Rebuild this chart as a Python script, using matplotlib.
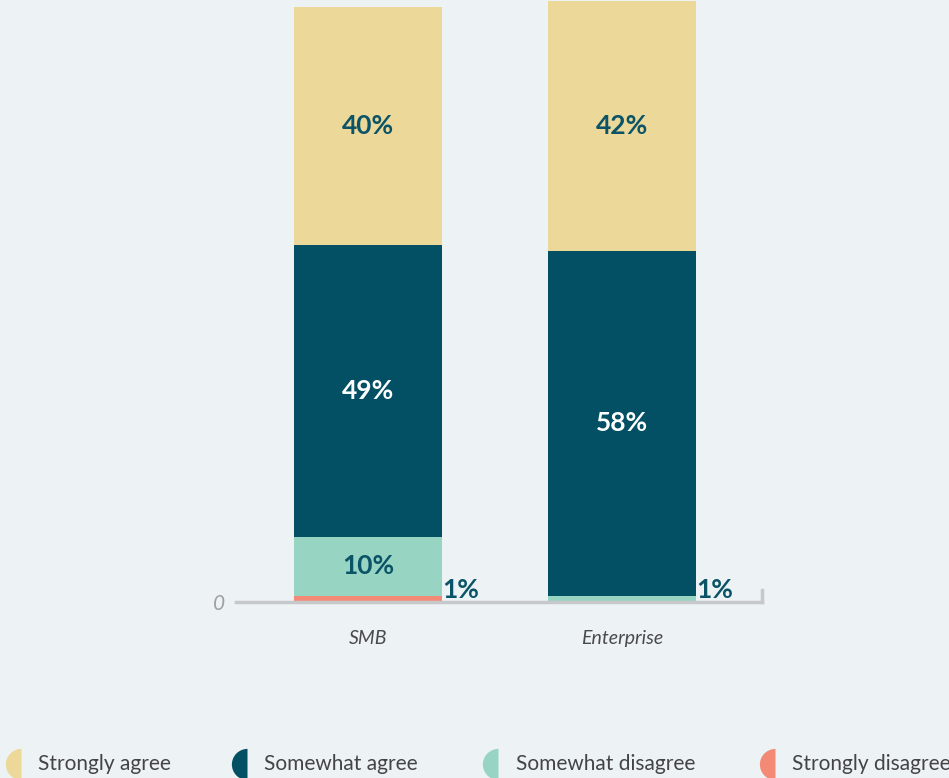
import matplotlib.pyplot as plt
import numpy as np
from matplotlib.lines import Line2D

plt.rcParams["font.family"] = ["Lato", "DejaVu Sans"]

# survey answers, percent of respondents
segments = ["Strongly disagree", "Somewhat disagree", "Somewhat agree", "Strongly agree"]
groups = ["SMB", "Enterprise"]
strongly_disagree = [1, 0]
somewhat_disagree = [10, 1]
somewhat_agree = [49, 58]
strongly_agree = [40, 42]

colors = {
    "Strongly agree": "#ecd898",
    "Somewhat agree": "#034f63",
    "Somewhat disagree": "#98d4c2",
    "Strongly disagree": "#f28a76",
}
text_colors = {
    "Strongly agree": "#0b5468",
    "Somewhat agree": "white",
    "Somewhat disagree": "#0b5468",
    "Strongly disagree": "#0b5468",
}
bg = "#edf2f5"

W, H = 949, 778
fig = plt.figure(figsize=(W / 100, H / 100), dpi=100, facecolor=bg)
ax = fig.add_axes([236 / W, (H - 602) / H, 526 / W, 601 / H])
ax.set_facecolor(bg)

x = np.arange(len(groups))
bar_w = 0.583
values = {
    "Strongly disagree": strongly_disagree,
    "Somewhat disagree": somewhat_disagree,
    "Somewhat agree": somewhat_agree,
    "Strongly agree": strongly_agree,
}
bottom = np.zeros(len(groups))
for seg in segments:
    vals = np.array(values[seg], dtype=float)
    ax.bar(x, vals, bar_w, bottom=bottom, color=colors[seg], linewidth=0, zorder=2)
    for i, v in enumerate(vals):
        if v >= 5:
            ax.text(x[i], bottom[i] + v / 2, f"{v:.0f}%", ha="center", va="center",
                    fontsize=19, fontweight="bold", color=text_colors[seg], zorder=3)
    bottom += vals

# small slices get their label beside the bar, on the baseline
for i in range(len(groups)):
    small = strongly_disagree[i] if strongly_disagree[i] > 0 else somewhat_disagree[i]
    ax.text(x[i] + bar_w / 2, 0, f"{small}%", ha="left", va="bottom",
            fontsize=19, fontweight="bold", color="#0b5468", zorder=3)

ax.set_xlim(-0.52, 1.551)
ax.set_ylim(0, 101)
for s in ["top", "left", "right"]:
    ax.spines[s].set_visible(False)
ax.spines["bottom"].set_color("#c6c8ca")
ax.spines["bottom"].set_linewidth(2.5)
ax.axvline(1.551, ymin=0, ymax=12 / 601, color="#c6c8ca", linewidth=2.5, clip_on=False)
ax.set_yticks([0])
ax.set_yticklabels(["0"], fontsize=15, style="italic", color="#a0a0a0")
ax.tick_params(axis="y", length=0, pad=8)
ax.set_xticks(x)
ax.set_xticklabels(groups, fontsize=14, style="italic", color="#4a4a4a")
ax.tick_params(axis="x", length=0, pad=20)

# legend along the bottom
legend_order = ["Strongly agree", "Somewhat agree", "Somewhat disagree", "Strongly disagree"]
marker_x = [21, 247, 498, 775]
text_x = [38, 264, 516, 792]
for seg, mx, tx in zip(legend_order, marker_x, text_x):
    fig.add_artist(Line2D([mx / W], [(H - 764) / H], transform=fig.transFigure,
                          marker="o", markersize=22.5, fillstyle="left",
                          markerfacecolor=colors[seg], markerfacecoloralt="none",
                          markeredgewidth=0, linestyle="none"))
    fig.text(tx / W, (H - 764) / H, seg, ha="left", va="center", fontsize=15,
             color="#444444")

fig.savefig("out.png", dpi=100, facecolor=bg)
